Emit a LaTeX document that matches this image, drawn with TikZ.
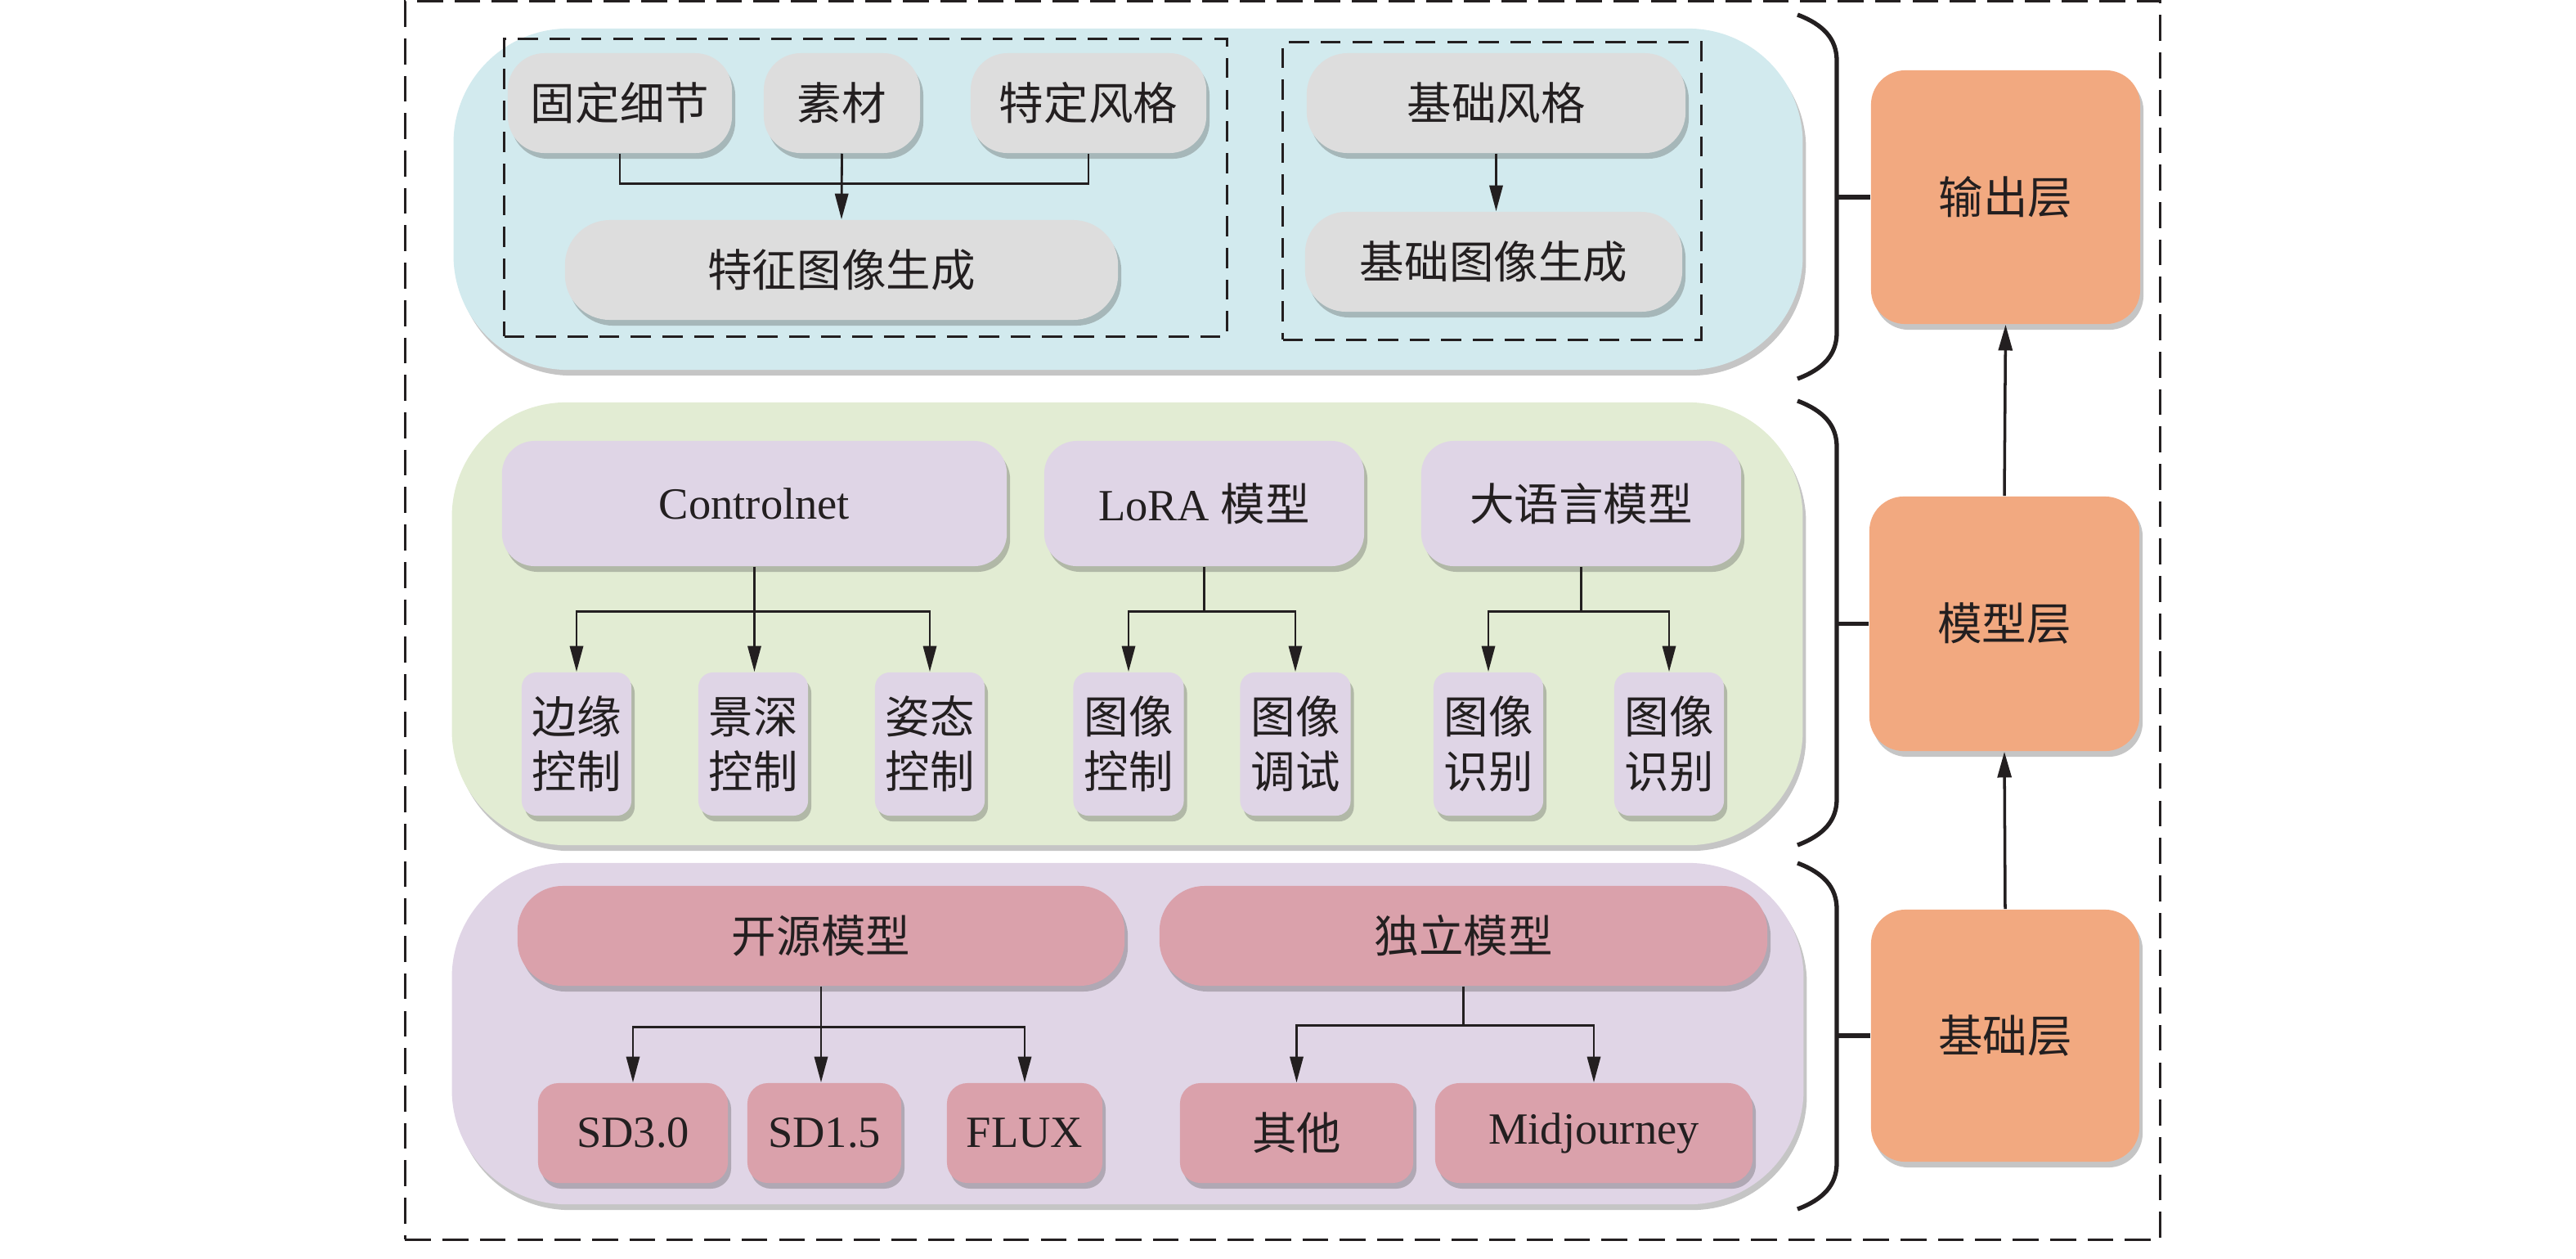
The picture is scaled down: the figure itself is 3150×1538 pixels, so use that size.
\documentclass[tikz,border=0pt]{standalone}
\usepackage{fontspec}
\setmainfont{Liberation Serif}
\newfontfamily\cjkf{Noto Sans CJK SC}
\usetikzlibrary{arrows.meta,shadows}
\definecolor{cBlue}{HTML}{D2EAEE}
\definecolor{cGreen}{HTML}{E2ECD3}
\definecolor{cPurp}{HTML}{E0D5E6}
\definecolor{cGray}{HTML}{DDDDDD}
\definecolor{cLav}{HTML}{DFD5E6}
\definecolor{cPink}{HTML}{DAA1AB}
\definecolor{cOrange}{HTML}{F2A980}
\definecolor{cInk}{HTML}{231F20}
\newcommand\fsz{\fontsize{15.5pt}{19pt}\selectfont}
\begin{document}
\begin{tikzpicture}[x=0.01cm,y=-0.01cm,
  every node/.style={inner sep=0pt, text=cInk},
  sh/.style={drop shadow={shadow xshift=0.04cm, shadow yshift=-0.07cm, opacity=0.32, fill=black!70}},
  panel/.style={rounded corners=1.4cm, sh},
  grp/.style={draw=cInk, line width=0.9pt, dash pattern=on 7pt off 4pt},
  bx/.style={fill=#1, sh, font=\fsz\cjkf, align=center},
  conn/.style={draw=cInk, line width=0.8pt},
  arr/.style={conn, -{Triangle[length=9pt,width=4.6pt]}},
  arrR/.style={draw=cInk, line width=1pt, -{Triangle[length=9pt,width=4.8pt]}},
  brc/.style={draw=cInk, line width=1.5pt}
]
\useasboundingbox (0,0) rectangle (3150,1538);

% outer dashed frame
\node[draw=cInk, line width=0.9pt, dash pattern=on 9pt off 4pt, minimum width=21.45cm, minimum height=15.13cm] (frame) at (1568.5,758.5) {};

% panels
\node[panel, fill=cBlue, minimum width=16.49cm, minimum height=4.17cm] (pT) at (1379.5,243.5) {};
\node[panel, fill=cGreen, minimum width=16.51cm, minimum height=5.41cm] (pM) at (1378.5,762.5) {};
\node[panel, fill=cPurp, minimum width=16.52cm, minimum height=4.17cm] (pB) at (1379,1263.5) {};

% dashed groups in top panel
\node[grp, minimum width=8.83cm, minimum height=3.63cm] (gL) at (1058.5,229.5) {};
\node[grp, minimum width=5.11cm, minimum height=3.63cm] (gR) at (1824.5,233.5) {};

% top panel boxes
\node[bx=cGray, rounded corners=0.45cm, minimum width=2.74cm, minimum height=1.22cm] (a1) at (758,126) {固定细节};
\node[bx=cGray, rounded corners=0.45cm, minimum width=1.91cm, minimum height=1.22cm] (a2) at (1029.5,126) {素材};
\node[bx=cGray, rounded corners=0.45cm, minimum width=2.88cm, minimum height=1.22cm] (a3) at (1331,126) {特定风格};
\node[bx=cGray, rounded corners=0.55cm, minimum width=6.76cm, minimum height=1.22cm] (a4) at (1029,330) {特征图像生成};
\node[bx=cGray, rounded corners=0.5cm, minimum width=4.63cm, minimum height=1.22cm] (b1) at (1829.5,126) {基础风格};
\node[bx=cGray, rounded corners=0.5cm, minimum width=4.61cm, minimum height=1.22cm] (b2) at (1826.5,320) {基础图像生成};

% middle panel boxes
\node[bx=cLav, rounded corners=0.4cm, minimum width=6.17cm, minimum height=1.53cm, font=\fsz] (c1) at (922.5,615.5) {Controlnet};
\node[bx=cLav, rounded corners=0.4cm, minimum width=3.91cm, minimum height=1.53cm, font=\fsz] (c2) at (1472.5,615.5) {LoRA {\cjkf 模型}};
\node[bx=cLav, rounded corners=0.4cm, minimum width=3.91cm, minimum height=1.53cm] (c3) at (1933.5,615.5) {大语言模型};

\node[bx=cLav, rounded corners=0.18cm, minimum width=1.34cm, minimum height=1.75cm] (d1) at (705,909.5) {边缘\\控制};
\node[bx=cLav, rounded corners=0.18cm, minimum width=1.34cm, minimum height=1.75cm] (d2) at (921,909.5) {景深\\控制};
\node[bx=cLav, rounded corners=0.18cm, minimum width=1.34cm, minimum height=1.75cm] (d3) at (1137,909.5) {姿态\\控制};
\node[bx=cLav, rounded corners=0.18cm, minimum width=1.35cm, minimum height=1.75cm] (d4) at (1380,909.5) {图像\\控制};
\node[bx=cLav, rounded corners=0.18cm, minimum width=1.35cm, minimum height=1.75cm] (d5) at (1584,909.5) {图像\\调试};
\node[bx=cLav, rounded corners=0.18cm, minimum width=1.34cm, minimum height=1.75cm] (d6) at (1820,909.5) {图像\\识别};
\node[bx=cLav, rounded corners=0.18cm, minimum width=1.34cm, minimum height=1.75cm] (d7) at (2041,909.5) {图像\\识别};

% bottom panel boxes
\node[bx=cPink, rounded corners=0.55cm, minimum width=7.42cm, minimum height=1.22cm] (e1) at (1004,1144) {开源模型};
\node[bx=cPink, rounded corners=0.55cm, minimum width=7.43cm, minimum height=1.22cm] (e2) at (1789.5,1144) {独立模型};

\node[bx=cPink, rounded corners=0.25cm, minimum width=2.32cm, minimum height=1.22cm, font=\fsz] (f1) at (774,1385) {SD3.0};
\node[bx=cPink, rounded corners=0.25cm, minimum width=1.88cm, minimum height=1.22cm, font=\fsz] (f2) at (1008,1385) {SD1.5};
\node[bx=cPink, rounded corners=0.25cm, minimum width=1.90cm, minimum height=1.22cm, font=\fsz] (f3) at (1253,1385) {FLUX};
\node[bx=cPink, rounded corners=0.25cm, minimum width=2.85cm, minimum height=1.22cm] (f4) at (1585.5,1385) {其他};
\node[bx=cPink, rounded corners=0.3cm, minimum width=3.88cm, minimum height=1.22cm, font=\fsz] (f5) at (1949,1385) {Midjourney};

% right column
\node[bx=cOrange, rounded corners=0.42cm, minimum width=3.29cm, minimum height=3.10cm] (r1) at (2452.5,241) {输出层};
\node[bx=cOrange, rounded corners=0.42cm, minimum width=3.30cm, minimum height=3.11cm] (r2) at (2451,762.5) {模型层};
\node[bx=cOrange, rounded corners=0.42cm, minimum width=3.28cm, minimum height=3.08cm] (r3) at (2452,1266) {基础层};

% connectors top panel
\draw[conn] (a1.south) -- ++(0,37) -| (a3.south);
\draw[arr] (a2.south) -- (a4.north);
\draw[arr] (b1.south) -- (b1.south |- b2.north);

% connectors middle panel
\draw[arr] (c1.south) -- ++(0,55) -| (d1.north);
\draw[arr] (c1.south) -- ++(0,55) -| (d3.north);
\draw[arr] (c1.south) -- (c1.south |- d2.north);
\draw[arr] (c2.south) -- ++(0,55) -| (d4.north);
\draw[arr] (c2.south) -- ++(0,55) -| (d5.north);
\draw[arr] (c3.south) -- ++(0,55) -| (d6.north);
\draw[arr] (c3.south) -- ++(0,55) -| (d7.north);

% connectors bottom panel
\draw[arr] (e1.south) -- ++(0,50) -| (f1.north);
\draw[arr] (e1.south) -- ++(0,50) -| (f3.north);
\draw[arr] (e1.south) -- (e1.south |- f2.north);
\draw[arr] (e2.south) -- ++(0,48) -| (f4.north);
\draw[arr] (e2.south) -- ++(0,48) -| (f5.north);

% right column arrows
\draw[arrR] (r3.north) -- (r2.south);
\draw[arrR] (r2.north) -- (r1.south);

% braces
\coordinate (t1) at (2198,18);
\coordinate (t2) at (2198,463);
\draw[brc] (t1) .. controls (2230,30) and (2246,48) .. (2246,74) -- (2246,407) .. controls (2246,433) and (2230,451) .. (t2);
\draw[brc] (2246,241) -- (r1.west);
\coordinate (m1) at (2198,490);
\coordinate (m2) at (2198,1033);
\draw[brc] (m1) .. controls (2230,502) and (2246,520) .. (2246,546) -- (2246,977) .. controls (2246,1003) and (2230,1021) .. (m2);
\draw[brc] (2246,762.5) -- (r2.west);
\coordinate (u1) at (2198,1055);
\coordinate (u2) at (2198,1478);
\draw[brc] (u1) .. controls (2230,1067) and (2246,1085) .. (2246,1111) -- (2246,1422) .. controls (2246,1448) and (2230,1466) .. (u2);
\draw[brc] (2246,1266) -- (r3.west);
\end{tikzpicture}
\end{document}
